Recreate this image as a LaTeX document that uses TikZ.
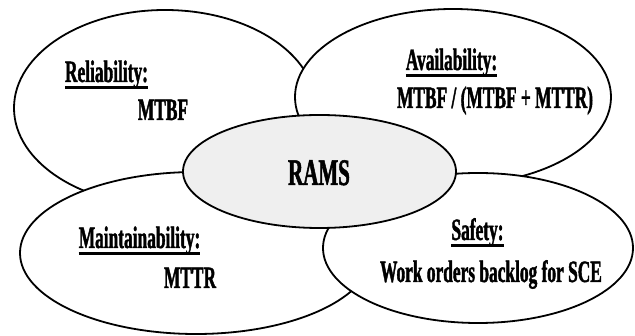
\documentclass[tikz,border=0pt]{standalone}
\usepackage{fontspec}
\setmainfont{Liberation Serif}[FakeStretch=0.56, BoldFeatures={FakeBold=1.3}]
\usetikzlibrary{shapes.geometric}
% underline drawn a few points below the baseline
\newcommand\ulword[1]{\setbox0\hbox{#1}\rlap{\vrule height -3.8pt depth 6.6pt width \wd0}\box0}
\definecolor{ramsgray}{HTML}{EFEFEF}
\tikzset{
  area/.style={ellipse, draw=black, line width=1.8pt, fill=white, inner sep=0pt},
  core/.style={area, fill=ramsgray},
  label/.style={anchor=base, inner sep=0pt, font=\fontsize{31}{34}\selectfont\bfseries},
  biglabel/.style={label, font=\fontsize{37.5}{40}\selectfont\bfseries}
}
\begin{document}
\begin{tikzpicture}[x=1pt, y=-1pt]
\useasboundingbox (0,0) rectangle (635,336);
% the four areas, each one overlapping the previous ones
\node[area, minimum width=302pt, minimum height=196pt] (rel) at (165,108) {};
\node[area, minimum width=316pt, minimum height=176pt] (avail) at (453,97) {};
\node[area, minimum width=352pt, minimum height=162pt] (maint) at (196,253) {};
\node[area, minimum width=310pt, minimum height=150pt] (safe) at (478,248) {};
% central ellipse
\node[core, minimum width=273pt, minimum height=113pt] (rams) at (319.5,171.5) {};
% texts
\node[biglabel] (ramsT) at (319,185) {RAMS};
\node[label] (relH) at (106.5,82) {\ulword{Reliability:}};
\node[label] (relV) at (163,120) {MTBF};
\node[label] (avH) at (451.5,70) {\ulword{Availability:}};
\node[label] (avV) at (495,108) {MTBF / (MTBF + MTTR)};
\node[label] (mnH) at (139.5,248) {\ulword{Maintainability:}};
\node[label] (mnV) at (190,288) {MTTR};
\node[label] (sfH) at (477.5,240) {\ulword{Safety:}};
\node[label] (sfV) at (491,282) {Work orders backlog for SCE};
\end{tikzpicture}
\end{document}
